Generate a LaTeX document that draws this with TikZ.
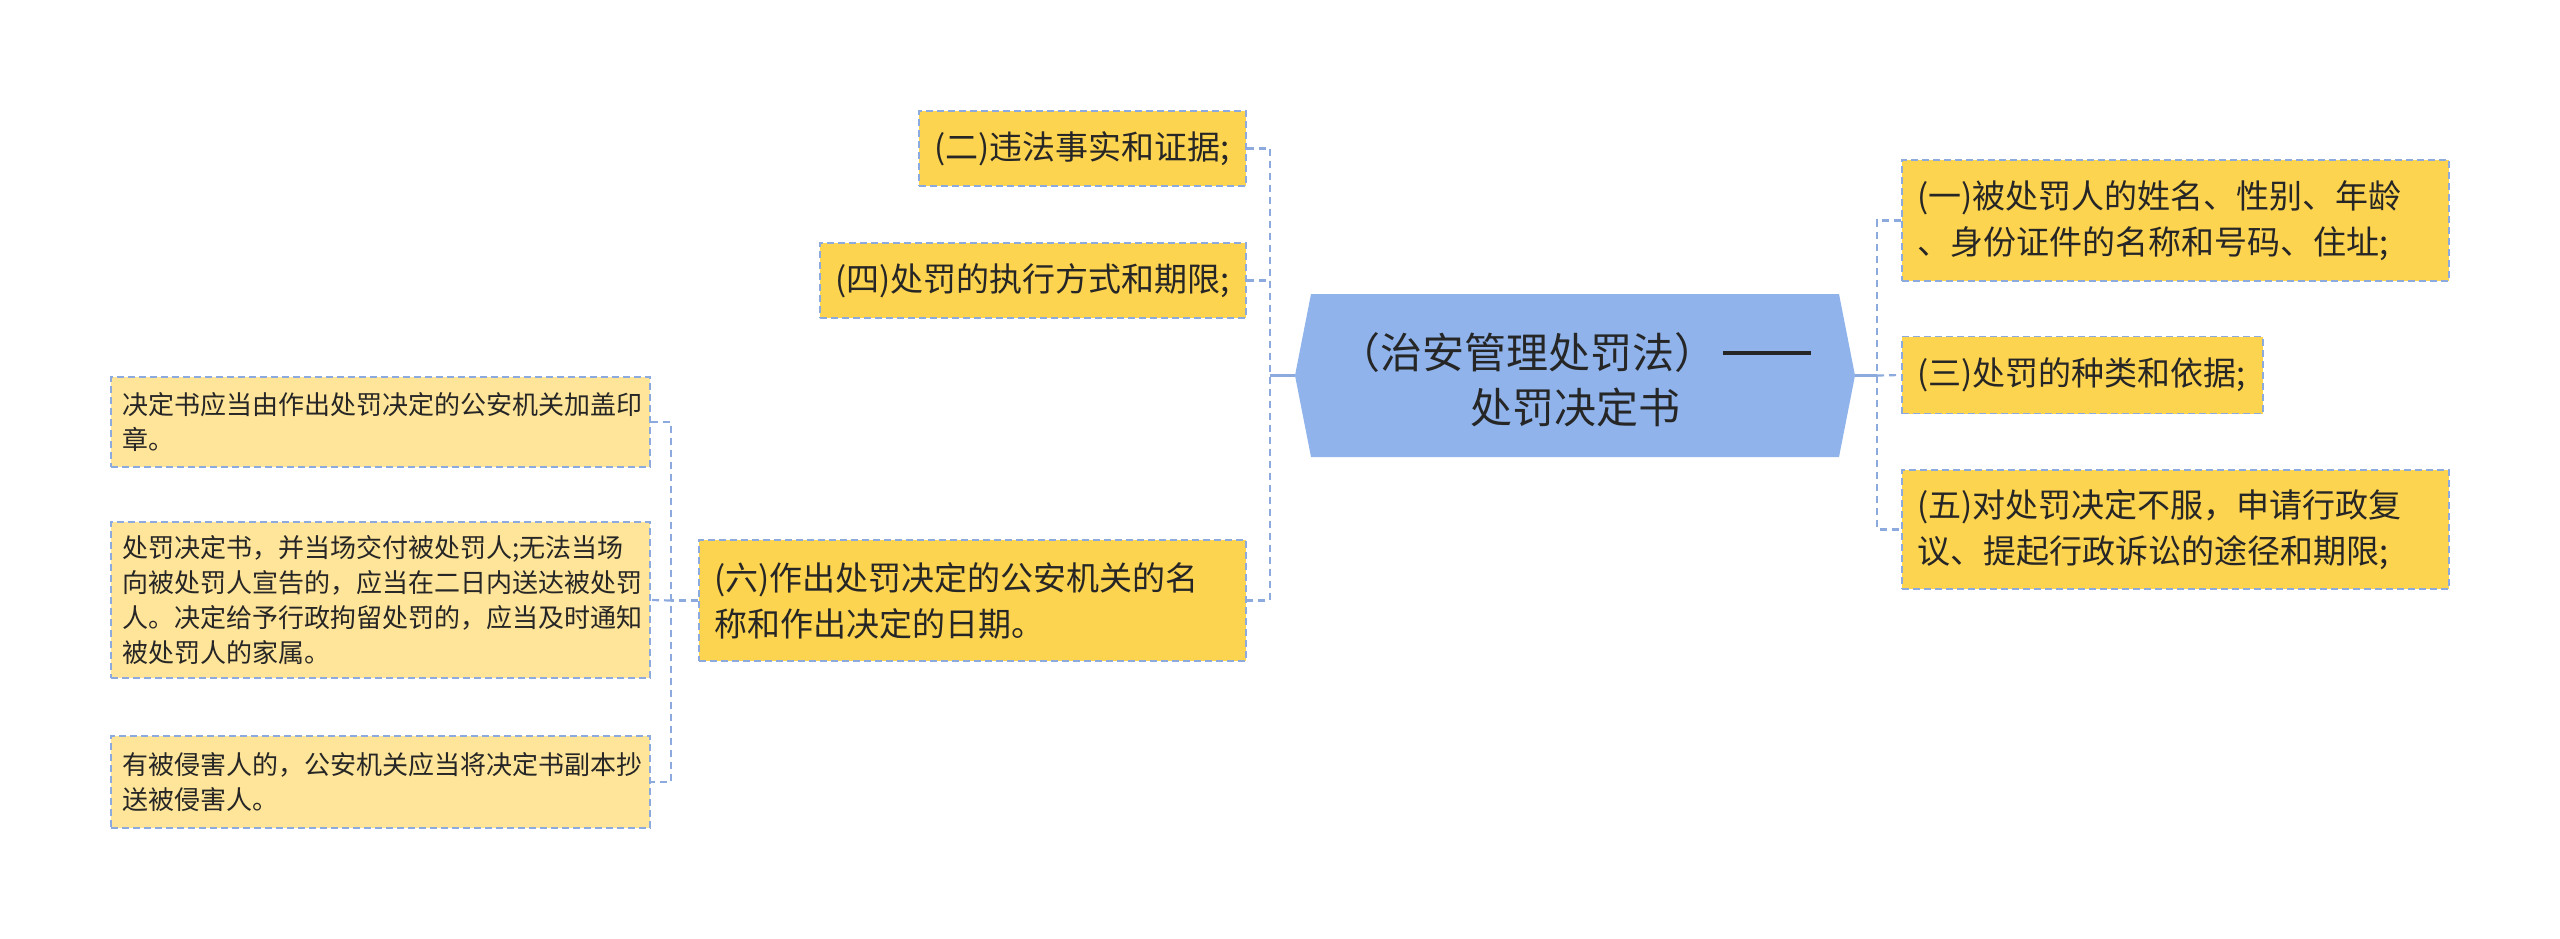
\documentclass[tikz,border=0pt]{standalone}
\usepackage{fontspec}
\setmainfont{Noto Sans CJK SC}
\definecolor{mainyel}{RGB}{253,212,80}
\definecolor{lightyel}{RGB}{255,229,153}
\definecolor{hexblue}{RGB}{143,179,234}
\definecolor{linecol}{RGB}{140,170,222}
\definecolor{txt}{RGB}{38,38,38}
\tikzset{
  boxbase/.style={draw=linecol, line width=1.6pt, dash pattern=on 7pt off 4pt, text=txt, align=left, inner xsep=15pt, inner ysep=0pt, anchor=center},
  lvlone/.style={boxbase, fill=mainyel, font=\fontsize{33}{46}\selectfont},
  lvltwo/.style={boxbase, fill=lightyel, inner xsep=11pt, font=\fontsize{26}{35}\selectfont},
  conn/.style={draw=linecol, line width=2.2pt, dash pattern=on 7pt off 5pt},
  rootline/.style={draw=linecol, line width=3pt},
}
\begin{document}
\begin{tikzpicture}[x=1pt,y=-1pt]
\useasboundingbox (0,0) rectangle (2560,938);
% central hexagon
\coordinate (rootL) at (1295,375.5);
\coordinate (rootR) at (1855,375.5);
\fill[hexblue] (rootL) -- (1311,294) -- (1839,294) -- (rootR) -- (1839,457) -- (1311,457) -- cycle;
\node[text=txt, align=center, font=\fontsize{42}{55}\selectfont] (root) at (1575,380) {（治安管理处罚法）\hspace{0.15em}\rule[0.33em]{2.1em}{3.5pt}\\处罚决定书};
% right nodes
\node[lvlone, minimum width=547pt, text width=517pt, minimum height=121pt] (n1) at (2175.5,220.5) {(一)被处罚人的姓名、性别、年龄\\、身份证件的名称和号码、住址;};
\node[lvlone, minimum width=361pt, text width=331pt, minimum height=77pt] (n3) at (2082.5,375) {(三)处罚的种类和依据;};
\node[lvlone, minimum width=547pt, text width=517pt, minimum height=119pt] (n5) at (2175.5,529.5) {(五)对处罚决定不服，申请行政复\\议、提起行政诉讼的途径和期限;};
% left nodes
\node[lvlone, minimum width=327pt, text width=297pt, minimum height=75pt] (n2) at (1082.5,148.5) {(二)违法事实和证据;};
\node[lvlone, minimum width=426pt, text width=396pt, minimum height=75pt] (n4) at (1033,280.5) {(四)处罚的执行方式和期限;};
\node[lvlone, minimum width=547pt, text width=517pt, minimum height=121pt] (n6) at (972.5,600.5) {(六)作出处罚决定的公安机关的名\\称和作出决定的日期。};
% far left nodes
\node[lvltwo, minimum width=539pt, text width=517pt, minimum height=90pt] (c1) at (380.5,422) {决定书应当由作出处罚决定的公安机关加盖印\\章。};
\node[lvltwo, minimum width=539pt, text width=517pt, minimum height=156pt] (c2) at (380.5,600) {处罚决定书，并当场交付被处罚人;无法当场\\向被处罚人宣告的，应当在二日内送达被处罚\\人。决定给予行政拘留处罚的，应当及时通知\\被处罚人的家属。};
\node[lvltwo, minimum width=539pt, text width=517pt, minimum height=92pt] (c3) at (380.5,782) {有被侵害人的，公安机关应当将决定书副本抄\\送被侵害人。};
% connectors right
\coordinate (rj) at (1877,375.5);
\draw[rootline] (rootR) -- (rj);
\draw[conn] (n1.west) -- (rj |- n1.west) -- (rj |- n5.west) -- (n5.west);
\draw[conn] (rj) -- (n3.west);
% connectors left
\coordinate (lj) at (1270,375.5);
\draw[rootline] (rootL) -- (lj);
\draw[conn] (n2.east) -- (lj |- n2.east) -- (lj |- n6.east) -- (n6.east);
\draw[conn] (n4.east) -- (lj |- n4.east);
% connectors far left
\coordinate (fj) at (671,600.5);
\draw[conn] (n6.west) -- (fj);
\draw[conn] (c1.east) -- (fj |- c1.east) -- (fj |- c3.east) -- (c3.east);
\draw[conn] (fj) -- (c2.east);
\end{tikzpicture}
\end{document}
